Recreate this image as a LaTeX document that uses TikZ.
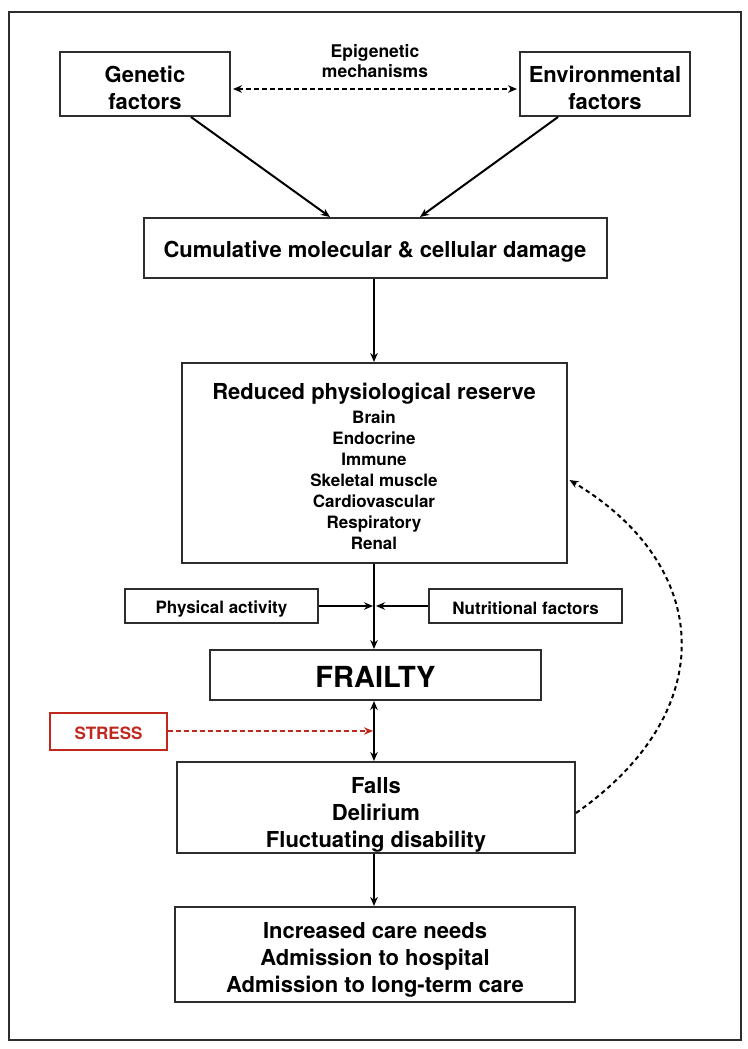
\documentclass[tikz,border=0pt]{standalone}
\usepackage{fontspec}
\setmainfont{TeX Gyre Heros}
\usetikzlibrary{arrows.meta}
\definecolor{stressred}{RGB}{192,40,30}
\definecolor{boxline}{RGB}{45,45,45}
\newcommand{\fsmain}{\fontsize{22}{27}\selectfont\bfseries}
\newcommand{\fssmall}{\fontsize{17}{21}\selectfont\bfseries}
\newcommand{\fsepi}{\fontsize{17.5}{20}\selectfont\bfseries}
\newcommand{\fsbig}{\fontsize{29}{34}\selectfont\bfseries}
\begin{document}
\begin{tikzpicture}[x=1pt,y=-1pt,
  box/.style={draw=boxline, line width=2pt, inner sep=0pt},
  txt/.style={inner sep=0pt, align=center, font=\fsmain},
  tip/.tip={Stealth[length=9pt,width=7.5pt]},
  arr/.style={line width=2pt, -tip},
  dblarr/.style={line width=2pt, tip-tip},
  dotarr/.style={line width=2pt, dash pattern=on 4.5pt off 3.5pt},
]
\useasboundingbox (0,0) rectangle (747,1049);
\draw[draw=boxline, line width=1.4pt] (9,12) rectangle (741,1040);

\node[box, minimum width=170, minimum height=64] (gen) at (145,84) {};
\node[txt] (genT) at ([yshift=-4pt]gen.center) {Genetic\\factors};
\node[box, minimum width=170, minimum height=64] (env) at (605,84) {};
\node[txt] (envT) at ([yshift=-4pt]env.center) {Environmental\\factors};
\node[txt, font=\fsepi] (epi) at (375,61) {Epigenetic\\mechanisms};
\node[box, minimum width=463, minimum height=60] (cum) at (375,248) {};
\node[txt] (cumT) at ([yshift=-4pt]cum.center) {Cumulative molecular \& cellular damage};
\node[box, minimum width=385, minimum height=200] (red) at (374,463) {};
\node[txt, font=\fssmall] (redT) at ([yshift=-3pt]red.center)
  {{\fsmain Reduced physiological reserve}\\[3pt]Brain\\Endocrine\\Immune\\Skeletal muscle\\Cardiovascular\\Respiratory\\Renal};
\node[box, minimum width=193, minimum height=34] (phys) at (221.5,606) {};
\node[txt, font=\fssmall] (physT) at ([yshift=-3pt]phys.center) {Physical activity};
\node[box, minimum width=193, minimum height=34] (nut) at (525.5,606) {};
\node[txt, font=\fssmall] (nutT) at ([yshift=-2pt]nut.center) {Nutritional factors};
\node[box, minimum width=331, minimum height=50] (frail) at (375.5,675) {};
\node[txt, font=\fsbig] (frailT) at ([yshift=-2pt]frail.center) {FRAILTY};
\node[box, draw=stressred, minimum width=117, minimum height=37] (stress) at (108.5,731) {};
\node[txt, font=\fssmall, text=stressred] (stressT) at ([yshift=-2pt]stress.center) {STRESS};
\node[box, minimum width=398, minimum height=91] (falls) at (376,807.5) {};
\node[txt] (fallsT) at ([yshift=-7pt]falls.center) {Falls\\Delirium\\Fluctuating disability};
\node[box, minimum width=400, minimum height=95] (care) at (375,954.5) {};
\node[txt] (careT) at ([yshift=-5pt]care.center) {Increased care needs\\Admission to hospital\\Admission to long-term care};

\draw[dotarr, tip-tip] ([xshift=2pt,yshift=-5pt]gen.east) -- ([xshift=-2pt,yshift=-5pt]env.west);
\draw[arr] ([xshift=46pt]gen.south) -- ([xshift=-45pt]cum.north);
\draw[arr] ([xshift=-47pt]env.south) -- ([xshift=45pt]cum.north);
\draw[arr] (cum.south -| red.north) -- (red.north);
\coordinate (j) at (red.south |- phys.east);
\draw[line width=2pt] (red.south) -- (j);
\draw[arr] (j) -- (red.south |- frail.north);
\draw[arr] (phys.east) -- ([xshift=-1pt]j);
\draw[arr] (nut.west) -- ([xshift=2pt]j);
\draw[dblarr] (red.south |- frail.south) -- (red.south |- falls.north);
\draw[dotarr, draw=stressred, -{Stealth[length=9pt,width=7.5pt,fill=stressred]}] (stress.east) -- ([xshift=-1pt]stress.east -| red.south);
\draw[arr] (red.south |- falls.south) -- (red.south |- care.north);
\draw[dotarr, -tip] ([yshift=-5.5pt]falls.east) .. controls +(147,-103) and +(142,85) .. ([xshift=2pt,yshift=-17pt]red.east);
\end{tikzpicture}
\end{document}
